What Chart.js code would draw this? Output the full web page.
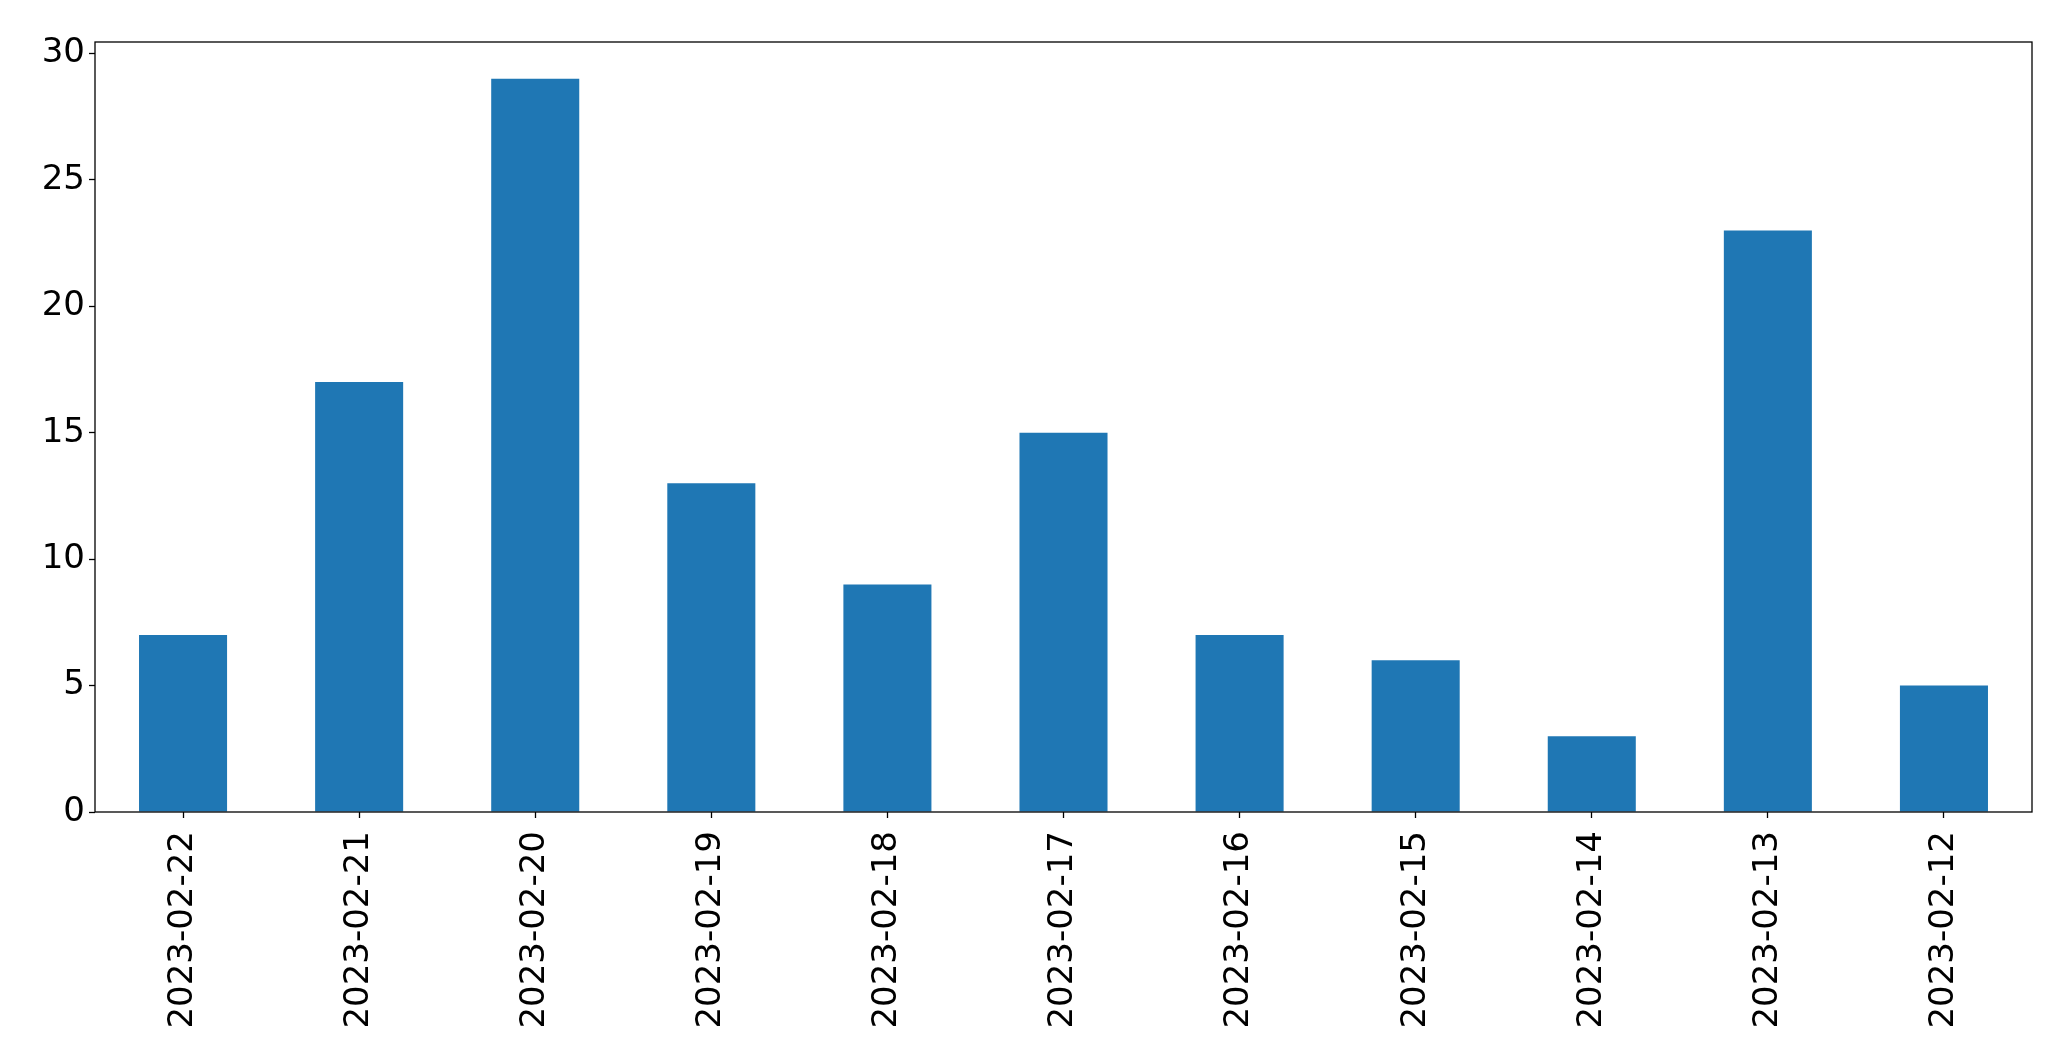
<!DOCTYPE html>
<html>
<head>
<meta charset="utf-8">
<script src="https://cdn.jsdelivr.net/npm/chart.js@4"></script>
<style>
  html, body { margin: 0; padding: 0; background: #fff; }
  #wrap { width: 2071px; height: 1064px; }
</style>
</head>
<body>
<div id="wrap"><canvas id="myChart" width="2071" height="1064"></canvas></div>
<script>
let dates = ["2023-02-22", "2023-02-21", "2023-02-20", "2023-02-19", "2023-02-18", "2023-02-17",
  "2023-02-16", "2023-02-15", "2023-02-14", "2023-02-13", "2023-02-12"];
let counts = [7, 17, 29, 13, 9, 15, 7, 6, 3, 23, 5];
let yTicks = [0, 5, 10, 15, 20, 25, 30];

// box around the plot area, like matplotlib's spines
let frame = {
  id: "frame",
  afterDraw(chart) {
    let a = chart.chartArea;
    let ctx = chart.ctx;
    ctx.save();
    ctx.strokeStyle = "#000";
    ctx.lineWidth = 1.3;
    ctx.strokeRect(a.left, a.top, a.right - a.left, a.bottom - a.top);
    ctx.restore();
  },
};

let font = { family: "DejaVu Sans", size: 34 };

new Chart(document.getElementById("myChart"), {
  type: "bar",
  data: {
    labels: dates,
    datasets: [
      {
        data: counts,
        backgroundColor: "#1f77b4",
        borderWidth: 0,
        categoryPercentage: 1,
        barPercentage: 0.5,
      },
    ],
  },
  options: {
    responsive: false,
    animation: false,
    layout: { padding: { left: 0, top: 42, right: 39, bottom: 0 } },
    plugins: { legend: { display: false }, tooltip: { enabled: false } },
    scales: {
      x: {
        offset: true,
        grid: { offset: false, drawOnChartArea: false, tickLength: 6, tickColor: "#000", tickWidth: 1.3 },
        border: { display: false },
        ticks: { color: "#000", font: font, minRotation: 90, maxRotation: 90, padding: 13 },
        afterFit: (s) => { s.height = 252; },
      },
      y: {
        min: 0,
        max: 30.45,
        grid: { drawOnChartArea: false, tickLength: 6, tickColor: "#000", tickWidth: 1.3 },
        border: { display: false },
        ticks: { color: "#000", font: font, padding: 4 },
        afterBuildTicks: (s) => { s.ticks = yTicks.map((v) => ({ value: v })); },
        afterFit: (s) => { s.width = 95; },
      },
    },
  },
  plugins: [frame],
});
</script>
</body>
</html>
